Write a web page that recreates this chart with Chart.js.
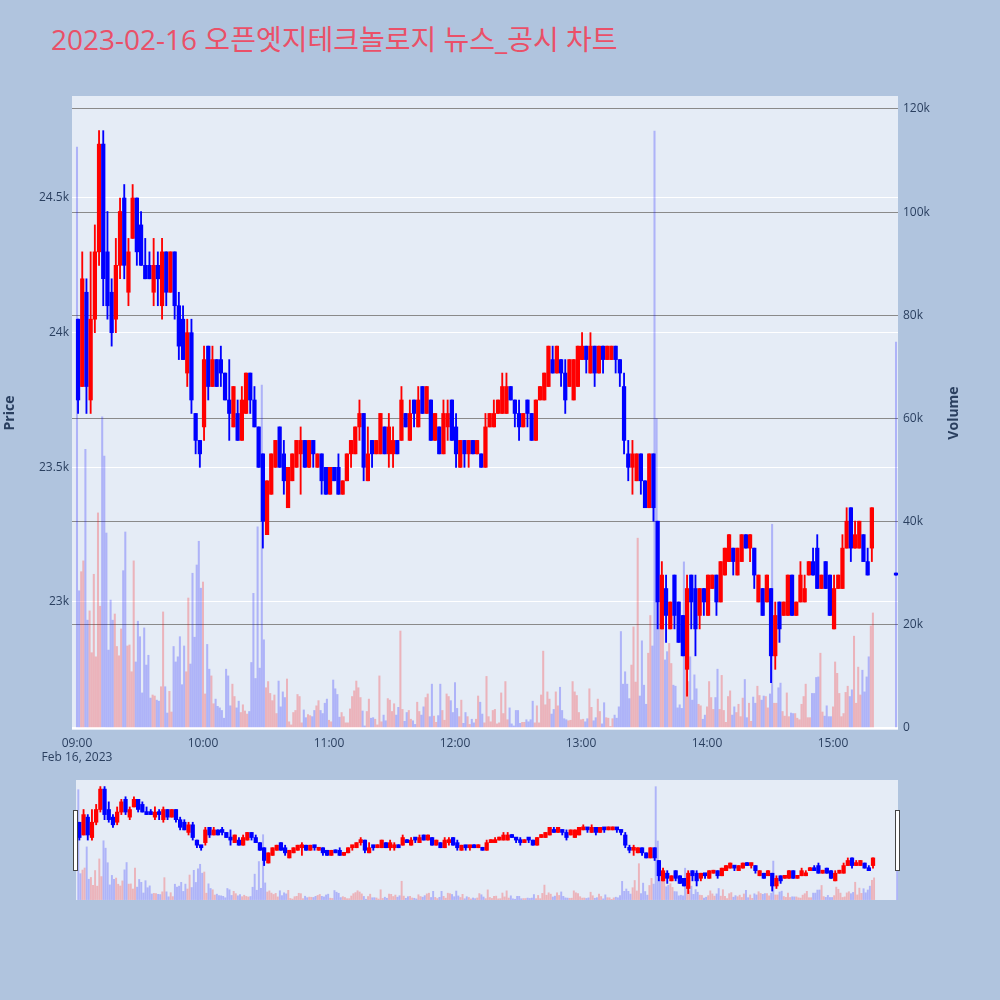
<!DOCTYPE html>
<html>
<head>
<meta charset="utf-8">
<script src="https://cdn.jsdelivr.net/npm/chart.js@4.4.1/dist/chart.umd.min.js"></script>
<style>
  body { margin: 0; width: 1000px; height: 1000px; background: #B0C4DE; position: relative; overflow: hidden; }
  #title { position: absolute; left: 51px; top: 25px; line-height: 28px; font-size: 28px; color: #EA5068;
           font-family: "Open Sans", "Noto Sans CJK KR", sans-serif; white-space: nowrap; }
  #main { position: absolute; left: 0; top: 0; }
  #slider { position: absolute; left: 76px; top: 780px; background: #E5ECF6; }
  .handle { position: absolute; top: 810px; width: 3px; height: 59px; background: #fff; border: 1px solid #444; }
</style>
</head>
<body>
<div id="title">2023-02-16 오픈엣지테크놀로지 뉴스_공시 차트</div>
<canvas id="main" width="1000" height="775"></canvas>
<canvas id="slider" width="822" height="120"></canvas>
<div class="handle" style="left:73px"></div>
<div class="handle" style="left:895px"></div>
<script>
// session info and axis ticks
const sessionDate = 'Feb 16, 2023';
const hourTicks = ['09:00', '10:00', '11:00', '12:00', '13:00', '14:00', '15:00'];
const priceTicks = [23000, 23500, 24000, 24500];
const volumeTicks = [0, 20, 40, 60, 80, 100, 120]; // thousands of shares
const candleMinutes = 2; // each candle below covers two minutes, starting 09:00

const opens = [
  24050,23800,24150,23750,24050,24300,24700,24300,24150,24050,
  24250,24500,24150,24350,24500,24400,24250,24250,24150,24250,
  24100,24300,24150,24300,24100,24050,23850,24000,23700,23600,
  23650,23950,23800,23900,23900,23850,23750,23650,23700,23600,
  23700,23850,23750,23650,23550,23250,23400,23500,23650,23550,
  23350,23450,23500,23550,23600,23500,23600,23500,23550,23500,
  23400,23500,23500,23400,23450,23550,23550,23650,23700,23450,
  23600,23550,23550,23650,23550,23550,23600,23600,23700,23600,
  23750,23650,23800,23700,23750,23600,23650,23550,23650,23750,
  23650,23500,23600,23550,23600,23550,23550,23500,23650,23650,
  23700,23700,23700,23800,23750,23700,23650,23750,23700,23600,
  23750,23750,23800,23900,23850,23900,23850,23800,23750,23800,
  23900,23950,23850,23950,23850,23950,23900,23900,23950,23900,
  23800,23550,23500,23450,23550,23450,23350,23550,23300,22900,
  23050,22900,23100,23000,22950,22750,23100,23050,22950,23050,
  22950,23050,23100,23000,23100,23150,23200,23100,23150,23250,
  23200,23200,23000,23050,23000,23050,22800,23000,22950,22950,
  23100,22950,23000,23000,23100,23150,23200,23050,23150,23100,
  22900,23050,23050,23200,23350,23200,23200,23250,23150,23200
];
const highs = [
  24050,24300,24200,24300,24400,24750,24750,24450,24200,24350,
  24500,24550,24350,24550,24500,24450,24350,24300,24350,24300,
  24350,24300,24300,24300,24150,24100,24050,24050,23700,23600,
  23950,23950,23950,23900,23950,23850,23900,23800,23750,23800,
  23850,23850,23800,23650,23550,23450,23550,23600,23650,23600,
  23500,23550,23600,23650,23600,23600,23600,23550,23550,23500,
  23500,23500,23550,23450,23550,23600,23650,23750,23700,23650,
  23600,23600,23700,23650,23700,23650,23600,23800,23700,23750,
  23750,23800,23800,23800,23750,23700,23650,23750,23750,23750,
  23700,23600,23600,23600,23600,23600,23550,23700,23700,23750,
  23750,23850,23850,23800,23750,23750,23700,23750,23700,23750,
  23800,23850,23950,23950,23950,23900,23900,23900,23900,23950,
  24000,23950,24000,23950,23950,23950,23950,23950,23950,23900,
  23850,23600,23600,23550,23550,23450,23550,23550,23300,23150,
  23100,23000,23100,23000,22950,23100,23100,23100,23050,23050,
  23100,23100,23100,23150,23200,23250,23200,23200,23250,23250,
  23250,23200,23100,23050,23100,23050,23000,23000,23000,23100,
  23100,23000,23150,23100,23150,23200,23250,23100,23150,23100,
  23100,23100,23250,23350,23350,23300,23300,23250,23200,23350
];
const lows = [
  23700,23800,23700,23700,24000,24250,24100,24050,23950,24000,
  24200,24200,24100,24350,24250,24250,24200,24200,24100,24100,
  24050,24100,24150,24050,23900,23900,23800,23700,23550,23500,
  23600,23750,23800,23800,23800,23750,23600,23650,23600,23600,
  23700,23700,23650,23500,23200,23250,23400,23500,23500,23400,
  23350,23450,23500,23400,23500,23500,23500,23500,23400,23400,
  23400,23450,23400,23400,23450,23500,23550,23600,23450,23450,
  23500,23550,23550,23550,23500,23500,23550,23600,23650,23600,
  23650,23650,23700,23700,23600,23600,23550,23550,23600,23600,
  23500,23500,23500,23500,23550,23550,23500,23500,23650,23650,
  23700,23700,23700,23750,23650,23600,23650,23650,23600,23600,
  23750,23750,23800,23850,23850,23800,23700,23800,23750,23800,
  23900,23850,23850,23800,23850,23850,23900,23900,23850,23800,
  23550,23450,23400,23450,23400,23350,23350,23300,22900,22900,
  22850,22900,22900,22850,22800,22650,22900,22800,22900,22950,
  22950,23050,22950,23000,23100,23150,23100,23100,23150,23200,
  23150,23050,23000,22950,23000,22700,22750,22850,22950,22950,
  22950,22950,23000,23000,23100,23100,23050,23050,23050,22950,
  22900,23050,23050,23200,23150,23200,23200,23150,23100,23150
];
const closes = [
  23750,24200,23800,24050,24300,24700,24200,24100,24000,24250,
  24450,24250,24300,24500,24300,24250,24200,24200,24250,24200,
  24300,24150,24300,24100,23950,23900,24000,23750,23600,23550,
  23900,23800,23900,23800,23850,23750,23700,23800,23600,23750,
  23850,23750,23650,23500,23300,23450,23550,23600,23500,23450,
  23500,23550,23600,23600,23500,23600,23550,23550,23450,23400,
  23500,23450,23400,23450,23550,23600,23650,23700,23500,23550,
  23550,23600,23700,23550,23650,23600,23550,23750,23650,23700,
  23700,23750,23700,23800,23600,23700,23550,23700,23700,23600,
  23550,23600,23550,23600,23550,23600,23500,23650,23700,23700,
  23750,23800,23800,23750,23700,23650,23700,23700,23600,23750,
  23800,23850,23950,23850,23950,23850,23750,23900,23900,23950,
  23950,23900,23950,23850,23950,23900,23950,23950,23900,23850,
  23600,23500,23550,23550,23450,23350,23550,23350,23000,23100,
  22950,23000,22950,22850,22800,23050,23000,22900,23050,23000,
  23100,23100,23000,23150,23200,23250,23150,23200,23250,23200,
  23250,23100,23100,22950,23100,22800,22950,22900,23000,23100,
  22950,23000,23100,23050,23150,23100,23050,23100,23050,22950,
  23050,23100,23200,23300,23200,23250,23300,23150,23100,23350
];
// volume per minute from 09:00 to 15:19, thousands of shares
const volumes = [
  112.6,26.6,30.3,32.4,54.0,20.9,22.7,14.6,29.8,13.8,
  41.7,23.6,60.3,52.7,37.8,15.1,24.8,20.9,22.1,15.8,
  14.0,19.2,30.5,38.0,15.9,16.1,10.9,32.4,12.8,20.7,
  17.7,6.8,19.4,12.2,14.1,5.8,6.4,6.2,5.4,5.2,
  8.0,22.5,8.0,2.9,7.1,3.1,15.8,12.8,13.8,17.7,
  8.4,15.9,10.9,25.2,12.4,30.0,17.6,31.6,36.2,27.1,
  28.3,6.6,16.2,11.4,10.1,4.7,5.6,4.2,3.9,3.4,
  1.9,11.4,10.1,4.3,8.5,6.1,3.9,5.2,3.0,4.5,
  3.3,2.7,3.2,12.7,26.1,9.6,39.0,11.6,66.5,17.1,
  7.8,9.0,6.7,5.3,6.4,2.8,9.1,4.1,7.0,5.9,
  9.5,1.2,0.6,3.0,3.4,6.5,6.1,1.0,3.5,2.0,
  2.6,2.4,2.2,3.4,4.3,5.3,3.4,2.8,4.8,5.6,
  1.5,1.2,9.3,7.6,6.5,2.1,3.0,2.2,1.0,1.0,
  3.7,6.1,7.2,9.1,7.8,5.9,3.3,0.4,3.2,5.6,
  1.9,2.0,1.7,0.6,10.1,1.2,2.5,1.4,5.7,5.4,
  3.2,4.7,2.5,4.0,18.8,3.6,1.3,3.0,3.4,1.7,
  1.4,0.7,5.0,3.2,2.5,4.1,5.9,6.6,2.2,8.5,
  2.3,1.1,2.4,8.5,3.4,1.5,
  6.6,6.1,5.3,3.0,8.8,3.8,2.2,5.4,0.9,3.0,
  2.2,0.7,1.7,1.0,1.7,6.2,5.0,2.7,1.0,10.0,
  2.2,1.2,3.4,3.6,0.8,1.0,6.8,2.8,9.0,1.6,
  3.9,0.8,0.4,3.4,3.4,0.9,1.1,1.1,1.6,1.2,
  1.6,5.2,1.0,4.3,1.0,6.4,14.9,4.5,7.0,5.6,
  2.7,3.6,7.0,4.3,7.9,3.4,1.8,1.6,1.4,1.5,
  9.0,7.0,6.3,3.0,1.6,1.7,1.2,1.8,7.6,4.0,
  1.4,2.0,5.6,3.2,0.8,4.9,2.0,1.9,0.3,1.8,
  2.5,1.9,4.1,18.7,8.5,10.9,8.5,5.7,12.2,19.6,
  8.9,36.8,6.2,16.9,8.3,4.6,14.5,21.8,15.9,
  115.7,60.0,24.2,20.3,23.5,13.2,14.8,16.4,12.5,8.3,
  8.1,3.9,4.5,3.8,32.2,12.2,9.0,13.8,5.4,10.3,
  7.6,4.6,4.3,1.7,2.5,4.1,9.0,5.9,3.6,5.9,
  11.4,3.6,10.2,3.4,1.1,6.1,7.2,2.5,4.1,3.0,
  4.6,2.2,5.8,9.4,2.0,4.8,1.3,6.0,4.8,8.1,
  6.3,5.4,6.2,6.1,3.9,6.6,39.5,4.8,4.8,7.8,
  8.7,3.2,2.3,6.8,2.2,2.9,2.8,2.8,1.9,1.6,
  4.6,6.1,8.5,2.0,2.0,6.7,6.7,9.8,9.9,14.5,
  3.1,2.3,4.3,2.2,2.2,4.1,12.8,10.6,6.7,2.2,
  2.8,6.9,8.1,6.1,7.4,17.8,4.8,11.8,6.4,11.2,
  7.0,9.9,13.8,19.8,22.3
];
// single-price closing auction
const closingAuction = { time: '15:30', open: 23100, high: 23100, low: 23100, close: 23100, volume: 74.8 };

const UP = '#FF0000', DOWN = '#0000FF';
const UP_VOL = 'rgba(255,0,0,0.24)', DOWN_VOL = 'rgba(0,0,255,0.24)';
const PLOT_BG = '#E5ECF6';

function toMinutes(t) {
    const [h, m] = t.split(':').map(Number);
    return (h - 9) * 60 + m;
}

// candle list: regular two-minute candles plus the closing auction
const candles = opens.map((o, i) => ({
    x: i * candleMinutes + (candleMinutes - 1) / 2,
    o: o, h: highs[i], l: lows[i], c: closes[i]
}));
candles.push({ x: toMinutes(closingAuction.time), o: closingAuction.open, h: closingAuction.high,
               l: closingAuction.low, c: closingAuction.close });
const candleColor = candles.map(k => k.c > k.o ? UP : DOWN);

const volumePoints = volumes.map((v, j) => ({ x: j, y: v }));
volumePoints.push({ x: toMinutes(closingAuction.time), y: closingAuction.volume });
const volumeColor = volumes.map((v, j) => candleColor[Math.floor(j / candleMinutes)] === UP ? UP_VOL : DOWN_VOL);
volumeColor.push(candleColor[candleColor.length - 1] === UP ? UP_VOL : DOWN_VOL);

function makeDatasets(bodyW, wickW, volW, minBody) {
    return [
        {
            label: 'body', yAxisID: 'y', order: 1, grouped: false,
            data: candles.map(k => ({ x: k.x, y: [Math.min(k.o, k.c), Math.max(k.o, k.c)] })),
            backgroundColor: candleColor, barThickness: bodyW, minBarLength: minBody, borderWidth: 0
        },
        {
            label: 'wick', yAxisID: 'y', order: 2, grouped: false,
            data: candles.map(k => ({ x: k.x, y: [k.l, k.h] })),
            backgroundColor: candleColor, barThickness: wickW, minBarLength: minBody, borderWidth: 0
        },
        {
            label: 'Volume', yAxisID: 'y2', order: 3, grouped: false,
            data: volumePoints,
            backgroundColor: volumeColor, barThickness: volW, borderWidth: 0
        }
    ];
}

const X_MIN = -2.38, X_MAX = 390.95;
const P_MIN = 22524.7, P_MAX = 24878.7;
const V_MIN = -0.39, V_MAX = 122.52;

Chart.defaults.font.family = '"Open Sans", sans-serif';
Chart.defaults.font.size = 12;
Chart.defaults.color = '#2a3f5f';

// plot area background
const plotBackground = {
    id: 'plotBackground',
    beforeDraw(chart) {
        const { ctx, chartArea: a } = chart;
        ctx.save();
        ctx.fillStyle = PLOT_BG;
        ctx.fillRect(a.left, a.top, a.right - a.left, a.bottom - a.top);
        ctx.restore();
    }
};

// Plotly-style rotated axis titles (both read bottom to top)
const axisTitles = {
    id: 'axisTitles',
    afterDraw(chart) {
        const { ctx, chartArea } = chart;
        const mid = (chartArea.top + chartArea.bottom) / 2;
        ctx.save();
        ctx.font = 'bold 14px "Open Sans", sans-serif';
        ctx.fillStyle = '#2a3f5f';
        ctx.textAlign = 'center';
        ctx.textBaseline = 'middle';
        [['Price', 10], ['Volume', 954]].forEach(([text, x]) => {
            ctx.save();
            ctx.translate(x, mid);
            ctx.rotate(-Math.PI / 2);
            ctx.fillText(text, 0, 0);
            ctx.restore();
        });
        ctx.restore();
    }
};

new Chart(document.getElementById('main'), {
    type: 'bar',
    data: { datasets: makeDatasets(3.6, 1.2, 1.4, 2) },
    options: {
        responsive: false,
        animation: false,
        layout: { padding: { top: 96, right: 34, left: 0, bottom: 0 } },
        plugins: { legend: { display: false }, tooltip: { enabled: false } },
        scales: {
            x: {
                type: 'linear', min: X_MIN, max: X_MAX, offset: false,
                grid: { display: false, drawTicks: false },
                border: { display: false },
                afterBuildTicks: s => { s.ticks = hourTicks.map(t => ({ value: toMinutes(t) })); },
                ticks: {
                    autoSkip: false, maxRotation: 0, padding: 6,
                    callback: v => {
                        const label = hourTicks.find(t => toMinutes(t) === v);
                        return v === 0 ? [label, sessionDate] : label;
                    }
                },
                afterFit: s => { s.height = 45; }
            },
            y: {
                position: 'left', min: P_MIN, max: P_MAX,
                grid: { color: '#FFFFFF', lineWidth: 1, drawTicks: false },
                border: { display: false },
                afterBuildTicks: s => { s.ticks = priceTicks.map(v => ({ value: v })); },
                ticks: { padding: 3, callback: v => (v / 1000) + 'k' },
                afterFit: s => { s.width = 72; }
            },
            y2: {
                position: 'right', min: V_MIN, max: V_MAX,
                grid: {
                    drawTicks: false,
                    color: c => c.tick && c.tick.value === 0 ? '#FFFFFF' : '#8a8a8a',
                    lineWidth: c => c.tick && c.tick.value === 0 ? 2 : 1
                },
                border: { display: false },
                afterBuildTicks: s => { s.ticks = volumeTicks.map(v => ({ value: v })); },
                ticks: { padding: 5, callback: v => v === 0 ? '0' : v + 'k' },
                afterFit: s => { s.width = 68; }
            }
        }
    },
    plugins: [plotBackground, axisTitles]
});

// range slider preview
new Chart(document.getElementById('slider'), {
    type: 'bar',
    data: { datasets: makeDatasets(3.6, 1.2, 1.3, 3) },
    options: {
        responsive: false,
        animation: false,
        layout: { padding: 0 },
        plugins: { legend: { display: false }, tooltip: { enabled: false } },
        scales: {
            x: { type: 'linear', display: false, min: -1.1, max: 390.4, offset: false },
            y: { display: false, min: P_MIN, max: P_MAX },
            y2: { display: false, min: V_MIN, max: V_MAX }
        }
    }
});
</script>
</body>
</html>
